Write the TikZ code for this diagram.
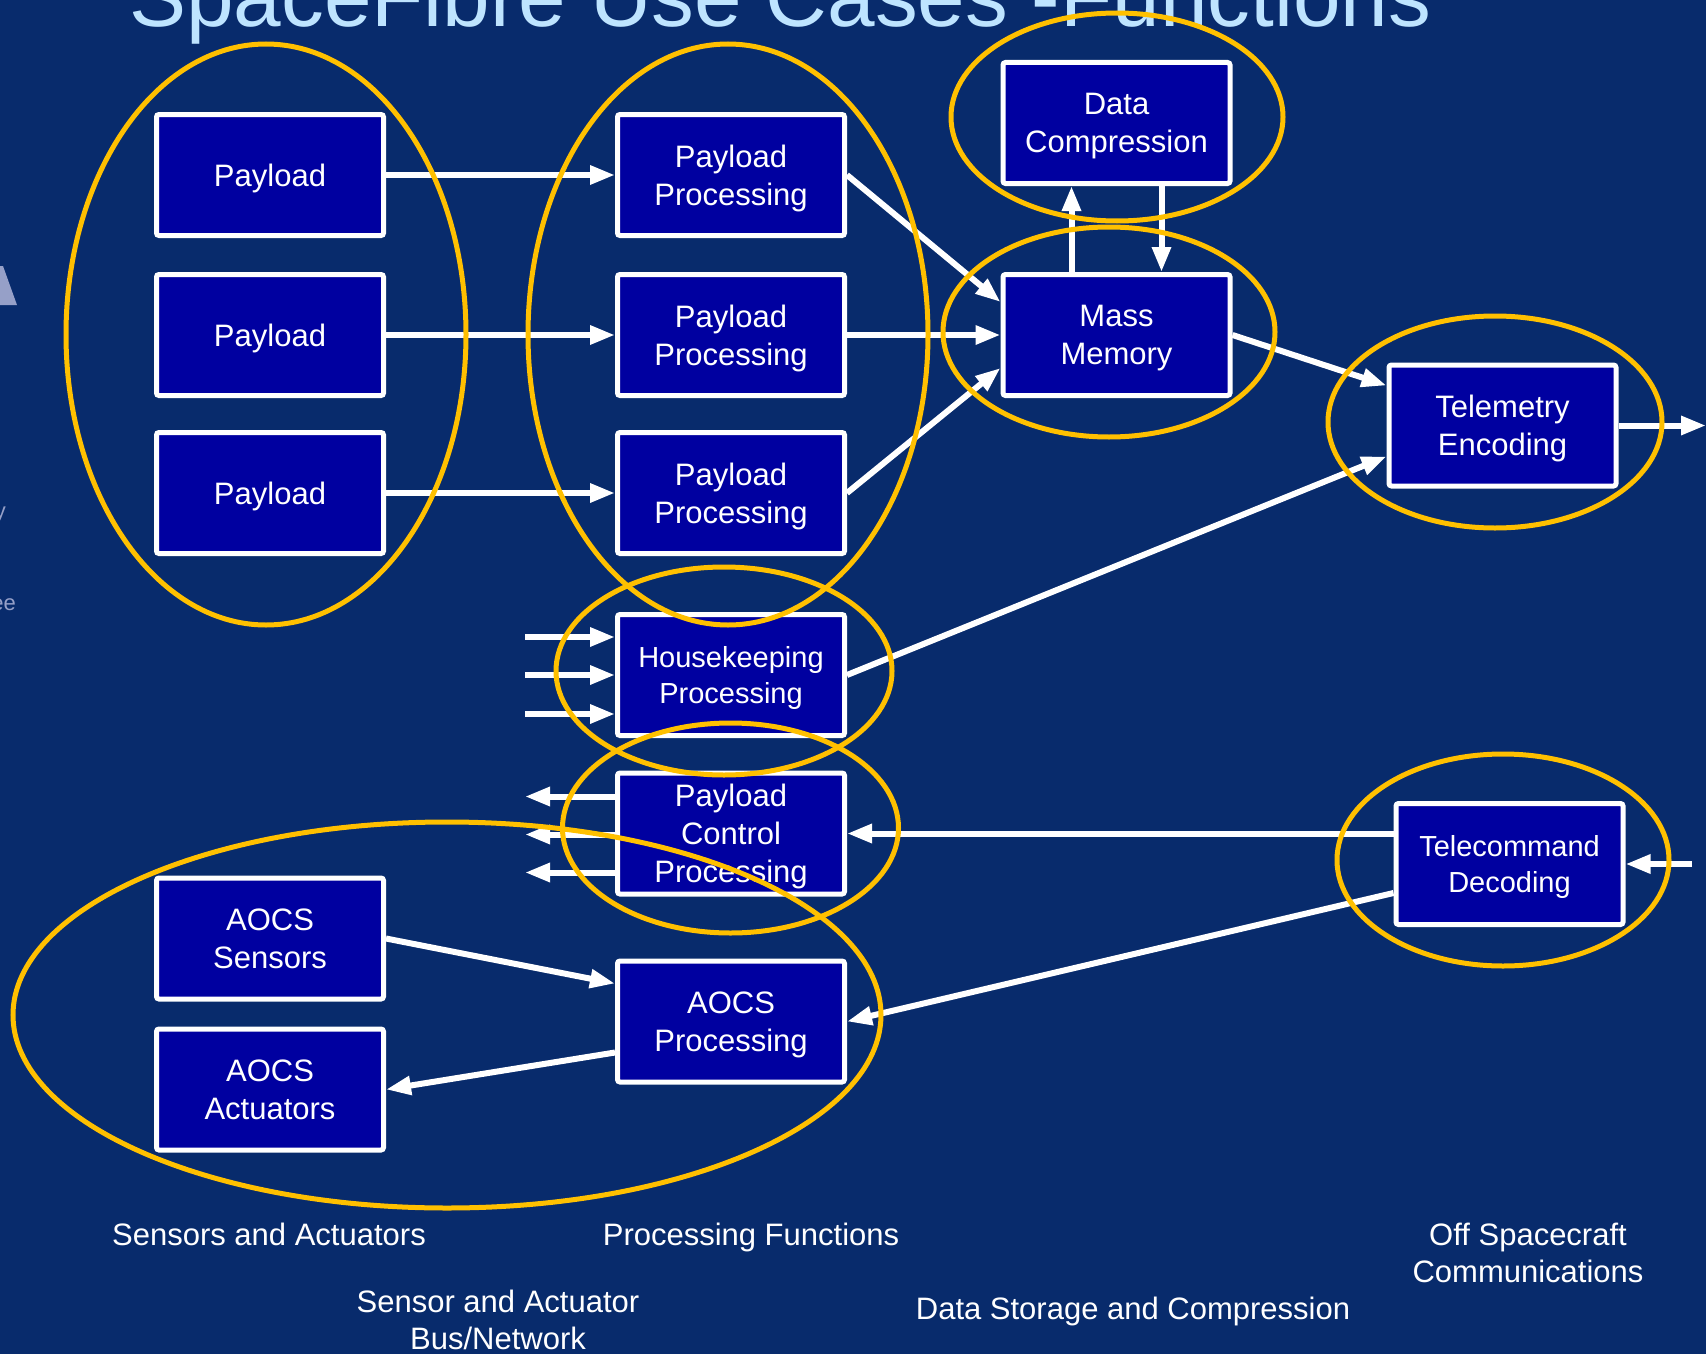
\documentclass[tikz,border=0pt]{standalone}
\usepackage{fontspec}
\setmainfont{Liberation Sans}
\usetikzlibrary{arrows.meta,calc}
\definecolor{slidebg}{RGB}{8,43,108}
\definecolor{boxblue}{RGB}{0,0,160}
\definecolor{ringgold}{RGB}{255,192,0}
\definecolor{titleblue}{RGB}{190,228,255}
\definecolor{ghost}{RGB}{150,160,200}

\begin{document}
\begin{tikzpicture}[x=1pt,y=-1pt,
  fn/.style={draw=white, line width=5pt, fill=boxblue, rounded corners=2.5pt,
    minimum width=227pt, minimum height=121pt, inner sep=0pt, text=white,
    align=center, text depth=-9pt, font=\fontsize{31}{38}\selectfont},
  fnsmall/.style={fn, text depth=-3.5pt, font=\fontsize{29}{36}\selectfont},
  flow/.style={draw=white, line width=6pt, -{Triangle[length=25pt,width=18pt]}},
  ring/.style={draw=ringgold, line width=5pt},
  caption/.style={text=white, align=center, inner sep=0pt,
    font=\fontsize{31}{37}\selectfont},
  faint/.style={text=ghost, inner sep=0pt, anchor=base east,
    font=\fontsize{22}{26}\selectfont}
]
% page and background
\useasboundingbox (0,0) rectangle (1706,1354);
\fill[slidebg] (0,0) rectangle (1706,1354);
\clip (0,0) rectangle (1706,1354);

% heading, partly off the top edge
\node[anchor=base west, inner sep=0pt, text=titleblue,
  font=\fontsize{85.5}{100}\selectfont] (title) at (129,27)
  {SpaceFibre Use Cases -Functions};

% faint marks at the left edge
\fill[ghost] (0,266) -- (3,266) -- (17,305) -- (0,305) -- cycle;
\node[faint] (gy) at (6,518) {y};
\node[faint] (gee) at (16,610) {ee};

% function blocks
\node[fn] (p1)  at (270,175)   {Payload};
\node[fn] (p2)  at (270,335)   {Payload};
\node[fn] (p3)  at (270,493)   {Payload};
\node[fn] (pp1) at (731,175)   {Payload\\Processing};
\node[fn] (pp2) at (731,335)   {Payload\\Processing};
\node[fn] (pp3) at (731,493)   {Payload\\Processing};
\node[fn] (dc)  at (1116.5,123) {Data\\Compression};
\node[fn] (mm)  at (1116.5,335) {Mass\\Memory};
\node[fn] (te)  at (1502.5,425.5) {Telemetry\\Encoding};
\node[fnsmall] (hk)  at (731,675)   {Housekeeping\\Processing};
\node[fn] (pcp) at (731,833.5) {Payload\\Control\\Processing};
\node[fn] (as)  at (270,938.5) {AOCS\\Sensors};
\node[fn] (ap)  at (731,1021.5) {AOCS\\Processing};
\node[fn] (aa)  at (270,1089.5) {AOCS\\Actuators};
\node[fnsmall] (tc)  at (1509.5,864) {Telecommand\\Decoding};

% free ends of the links leaving the picture
\coordinate (tmout) at (1706,425.5);
\coordinate (tcin)  at (1692,864);
\foreach \i/\dy in {1/-38,2/0,3/39}{
  \coordinate (hkin\i) at ($(hk.west)+(-90,\dy)$);
}
\foreach \i/\dy in {1/-37,2/1,3/39}{
  \coordinate (pcout\i) at ($(pcp.west)+(-90,\dy)$);
}

% data flows
\draw[flow] (p1) -- (pp1);
\draw[flow] (p2) -- (pp2);
\draw[flow] (p3) -- (pp3);
\draw[flow] (pp1.east) -- ($(mm.west)+(0,-33)$);
\draw[flow] (pp2) -- (mm);
\draw[flow] (pp3.east) -- ($(mm.west)+(0,33)$);
\draw[flow] ($(mm.north)+(-45,0)$) -- ($(dc.south)+(-45,0)$);
\draw[flow] ($(dc.south)+(45,0)$) -- ($(mm.north)+(45,0)$);
\draw[flow] (mm.east) -- ($(te.west)+(0,-40)$);
\draw[flow] (hk.east) -- ($(te.west)+(0,31)$);
\draw[flow] (te.east) -- (tmout);
\draw[flow] (tcin) -- (tc.east);
\draw[flow] (tc.west |- pcp.east) -- (pcp.east);
\draw[flow] ($(tc.west)+(0,29)$) -- (ap.east);
\draw[flow] (as.east) -- ($(ap.west)+(0,-38)$);
\draw[flow] ($(ap.west)+(0,31)$) -- (aa.east);
\foreach \i/\dy in {1/-38,2/0,3/39}{
  \draw[flow] (hkin\i) -- ($(hk.west)+(0,\dy)$);
}
\foreach \i/\dy in {1/-37,2/1,3/39}{
  \draw[flow] ($(pcp.west)+(0,\dy)$) -- (pcout\i);
}

% groupings
\draw[ring] (266,334.5)  ellipse [x radius=200pt, y radius=290.5pt];
\draw[ring] (728,334.5)  ellipse [x radius=200pt, y radius=290.5pt];
\draw[ring] (1117,117)   ellipse [x radius=166pt, y radius=104pt];
\draw[ring] (1109,332)   ellipse [x radius=166pt, y radius=105pt];
\draw[ring] (1495,422)   ellipse [x radius=167pt, y radius=106pt];
\draw[ring] (724,671)    ellipse [x radius=168pt, y radius=104pt];
\draw[ring] (730.5,828)  ellipse [x radius=168pt, y radius=105pt];
\draw[ring] (1503,860)   ellipse [x radius=166pt, y radius=106pt];
\draw[ring] (447,1015)   ellipse [x radius=434pt, y radius=193pt];

% group captions (base = last line)
\node[caption, anchor=base] (capsa)  at (269,1245)  {Sensors and Actuators};
\node[caption, anchor=base] (cappf)  at (751,1245)  {Processing Functions};
\node[caption, anchor=base] (capbus) at (498,1349)  {Sensor and Actuator\\Bus/Network};
\node[caption, anchor=base] (capds)  at (1133,1319) {Data Storage and Compression};
\node[caption, anchor=base] (capoff) at (1528,1282) {Off Spacecraft\\Communications};
\end{tikzpicture}
\end{document}
